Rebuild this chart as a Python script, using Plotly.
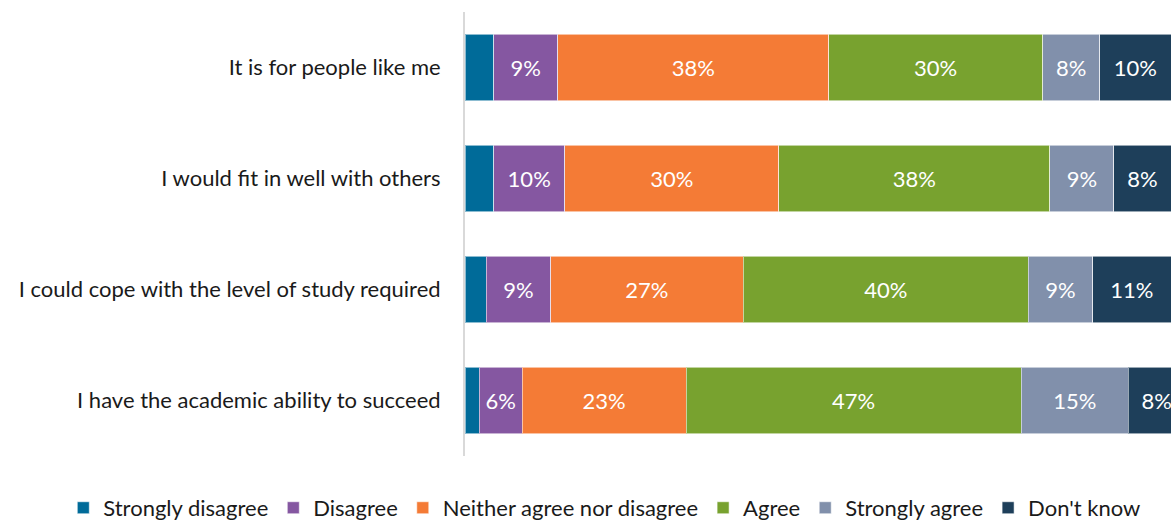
import plotly.graph_objects as go

# Survey statements (top to bottom) and response shares in percent
statements = [
    "It is for people like me",
    "I would fit in well with others",
    "I could cope with the level of study required",
    "I have the academic ability to succeed",
]
responses = ["Strongly disagree", "Disagree", "Neither agree nor disagree",
             "Agree", "Strongly agree", "Don't know"]

strongly_disagree = [4, 4, 3, 2]
disagree = [9, 10, 9, 6]
neither = [38, 30, 27, 23]
agree = [30, 38, 40, 47]
strongly_agree = [8, 9, 9, 15]
dont_know = [10, 8, 11, 8]

colors = ["#006B99", "#8557A1", "#F47B36", "#78A22F", "#8190AB", "#1E3F5A"]
series = [strongly_disagree, disagree, neither, agree, strongly_agree, dont_know]
# the smallest segment carries no value label
show_label = [False, True, True, True, True, True]

FONT = "Lato"
SIZE = 22

fig = go.Figure()
for name, vals, col, lab in zip(responses, series, colors, show_label):
    fig.add_trace(go.Bar(
        y=statements,
        x=vals,
        name=name,
        orientation="h",
        marker=dict(color=col, line=dict(color="rgba(255,255,255,0.55)", width=1)),
        text=[f"{v}%" for v in vals] if lab else None,
        textposition="inside" if lab else "none",
        insidetextanchor="middle",
        textfont=dict(color="white", size=SIZE, family=FONT),
        hoverinfo="skip",
    ))

fig.update_layout(
    width=1171,
    height=521,
    barmode="stack",
    bargap=0.4,
    margin=dict(l=465, r=0, t=12, b=65, autoexpand=False),
    plot_bgcolor="white",
    paper_bgcolor="white",
    font=dict(family=FONT, size=SIZE, color="#1a1a1a"),
    uniformtext=dict(mode="show", minsize=SIZE),
    showlegend=True,
    legend=dict(
        orientation="h",
        xref="paper", yref="paper",
        x=-0.569, xanchor="left",
        y=-0.117, yanchor="middle",
        font=dict(size=SIZE, family=FONT, color="#1a1a1a"),
        itemwidth=30,
        traceorder="normal",
    ),
    xaxis=dict(range=[0, 99], showgrid=False, showticklabels=False,
               zeroline=False, showline=False, fixedrange=True),
    yaxis=dict(autorange="reversed", showgrid=False, showline=True,
               linecolor="#d9d9d9", linewidth=2, ticks="",
               ticklabelstandoff=18, tickfont=dict(size=SIZE, family=FONT, color="#1a1a1a")),
)

fig.write_html("out.html")
